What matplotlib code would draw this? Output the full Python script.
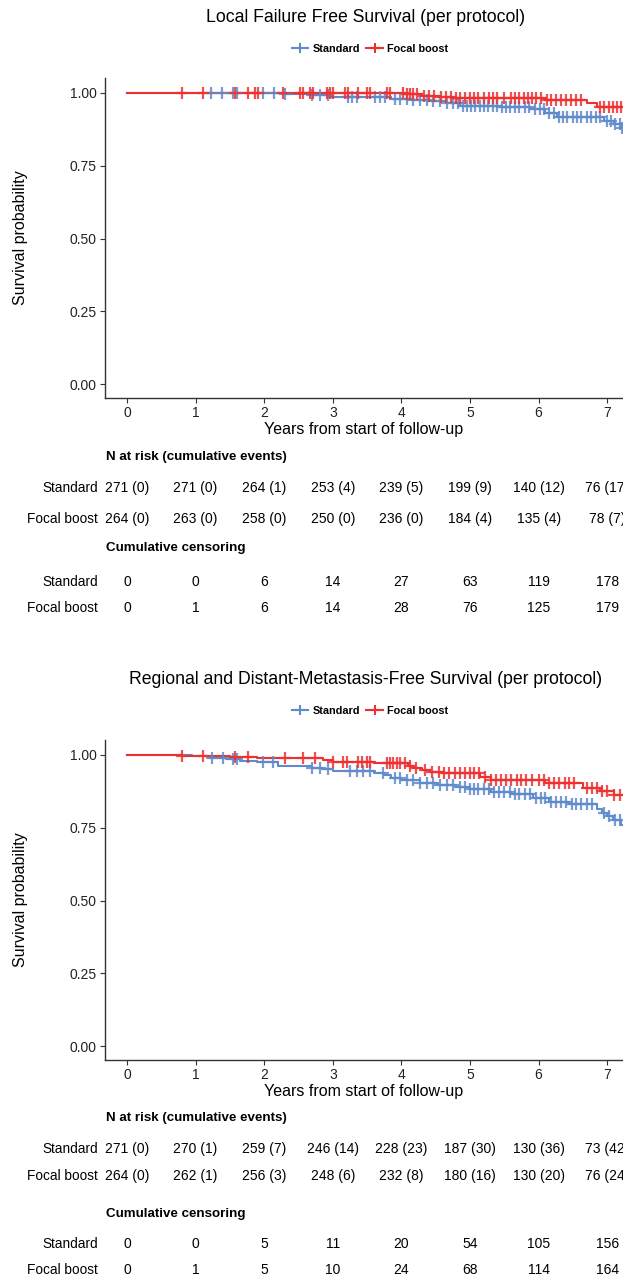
import numpy as np
import matplotlib
matplotlib.use("Agg")
import matplotlib.pyplot as plt
from matplotlib.lines import Line2D
from matplotlib.transforms import blended_transform_factory

plt.rcParams['font.family'] = ['Liberation Sans', 'DejaVu Sans']

BLUE = '#5F8ACB'
RED = '#EF3030'

groups = ['Standard', 'Focal boost']
years = [0, 1, 2, 3, 4, 5, 6, 7]

# ---- plot 1: local failure free survival ----
lf_std_t = [0, 2.3, 2.65, 2.95, 3.85, 4.15, 4.4, 4.65, 4.85, 5.45, 5.88, 6.1, 6.27, 6.95, 7.1, 7.2]
lf_std_s = [1.0, 0.996, 0.992, 0.985, 0.981, 0.977, 0.972, 0.966, 0.956, 0.952, 0.944, 0.93, 0.918, 0.905, 0.893, 0.88]
lf_fb_t = [0, 4.05, 4.3, 4.55, 4.75, 6.1, 6.7, 6.85]
lf_fb_s = [1.0, 0.996, 0.991, 0.987, 0.982, 0.976, 0.966, 0.952]
lf_std_cens = [1.23, 1.38, 1.55, 1.6, 1.99, 2.14, 2.3, 2.7, 2.81, 2.93, 3.22, 3.28, 3.35, 3.62, 3.69,
               3.76, 3.91, 3.98, 4.08, 4.17, 4.27, 4.37, 4.46, 4.56, 4.67, 4.75, 4.82, 4.9, 4.96, 5.02,
               5.08, 5.15, 5.2, 5.26, 5.33, 5.4, 5.47, 5.52, 5.58, 5.66, 5.72, 5.8, 5.86, 5.95, 6.02,
               6.08, 6.15, 6.22, 6.3, 6.36, 6.42, 6.5, 6.56, 6.62, 6.7, 6.76, 6.83, 6.9, 7.0, 7.06,
               7.12, 7.18, 7.22]
lf_fb_cens = [0.8, 1.11, 1.57, 1.76, 1.87, 1.91, 2.28, 2.52, 2.57, 2.67, 2.71, 2.92, 2.96, 3.0, 3.18,
              3.22, 3.37, 3.5, 3.54, 3.79, 3.83, 4.03, 4.08, 4.13, 4.17, 4.23, 4.33, 4.4, 4.48, 4.58,
              4.65, 4.72, 4.8, 4.86, 4.93, 5.0, 5.06, 5.12, 5.2, 5.27, 5.33, 5.4, 5.5, 5.6, 5.66,
              5.72, 5.78, 5.84, 5.9, 5.96, 6.03, 6.12, 6.18, 6.25, 6.32, 6.4, 6.47, 6.55, 6.62, 6.9,
              6.96, 7.02, 7.08, 7.14, 7.2]
lf_risk_std = ['271 (0)', '271 (0)', '264 (1)', '253 (4)', '239 (5)', '199 (9)', '140 (12)', '76 (17)']
lf_risk_fb = ['264 (0)', '263 (0)', '258 (0)', '250 (0)', '236 (0)', '184 (4)', '135 (4)', '78 (7)']
lf_cc_std = [0, 0, 6, 14, 27, 63, 119, 178]
lf_cc_fb = [0, 1, 6, 14, 28, 76, 125, 179]

# ---- plot 2: regional and distant-metastasis-free survival ----
md_std_t = [0, 0.95, 1.2, 1.45, 1.65, 1.9, 2.2, 2.7, 2.85, 3.0, 3.6, 3.75, 3.85, 4.0, 4.27, 4.52,
            4.8, 5.0, 5.3, 5.6, 5.92, 6.15, 6.45, 6.85, 6.92, 7.0, 7.08, 7.2]
md_std_s = [1.0, 0.996, 0.99, 0.986, 0.981, 0.977, 0.963, 0.955, 0.951, 0.946, 0.938, 0.93, 0.922,
            0.914, 0.905, 0.897, 0.89, 0.884, 0.874, 0.865, 0.852, 0.84, 0.832, 0.815, 0.8, 0.79,
            0.777, 0.76]
md_fb_t = [0, 0.8, 1.5, 1.9, 2.86, 3.0, 3.6, 4.1, 4.17, 4.3, 4.42, 4.6, 5.15, 5.3, 6.1, 6.65, 6.9, 7.1]
md_fb_s = [1.0, 0.996, 0.993, 0.989, 0.984, 0.977, 0.971, 0.962, 0.955, 0.95, 0.943, 0.937, 0.925,
           0.914, 0.903, 0.885, 0.876, 0.862]
md_std_cens = [1.24, 1.4, 1.55, 1.6, 1.98, 2.13, 2.7, 2.81, 2.93, 3.25, 3.35, 3.44, 3.54, 3.73, 3.91,
               3.98, 4.08, 4.17, 4.27, 4.37, 4.46, 4.56, 4.67, 4.75, 4.85, 4.92, 5.0, 5.06, 5.12,
               5.2, 5.27, 5.35, 5.42, 5.5, 5.58, 5.65, 5.72, 5.8, 5.88, 5.96, 6.03, 6.1, 6.18, 6.25,
               6.32, 6.4, 6.48, 6.55, 6.62, 6.7, 6.78, 6.95, 7.03, 7.12, 7.18]
md_fb_cens = [0.8, 1.11, 1.57, 1.76, 2.3, 2.57, 2.74, 3.0, 3.15, 3.2, 3.37, 3.43, 3.5, 3.54, 3.79,
              3.83, 3.88, 3.94, 3.98, 4.05, 4.13, 4.22, 4.35, 4.45, 4.55, 4.62, 4.7, 4.78, 4.85,
              4.92, 5.0, 5.06, 5.13, 5.22, 5.3, 5.38, 5.45, 5.52, 5.6, 5.68, 5.75, 5.82, 5.9, 6.0,
              6.08, 6.15, 6.23, 6.3, 6.38, 6.45, 6.52, 6.7, 6.78, 6.85, 6.92, 7.0, 7.1, 7.18]
md_risk_std = ['271 (0)', '270 (1)', '259 (7)', '246 (14)', '228 (23)', '187 (30)', '130 (36)', '73 (42)']
md_risk_fb = ['264 (0)', '262 (1)', '256 (3)', '248 (6)', '232 (8)', '180 (16)', '130 (20)', '76 (24)']
md_cc_std = [0, 0, 5, 11, 20, 54, 105, 156]
md_cc_fb = [0, 1, 5, 10, 24, 68, 114, 164]

W, H = 623, 1278
fig = plt.figure(figsize=(W / 100, H / 100), dpi=100)


def fy(py):
    return 1 - py / H


def surv_at(t, s, x):
    idx = np.searchsorted(t, x, side='right') - 1
    return np.asarray(s)[idx]


def km_panel(top_px, title, curves, risk_rows, cens_rows, ypos):
    ax = fig.add_axes([105 / W, fy(top_px + 320), 1 - 105 / W, 320 / H])
    for t, s, cens, col in curves:
        tt = list(t) + [7.4]
        ss = list(s) + [s[-1]]
        ax.step(tt, ss, where='post', color=col, lw=1.5, zorder=3)
        ax.plot(cens, surv_at(t, s, cens), ls='none', marker='+', ms=8, mew=1.6,
                color=col, alpha=0.85, zorder=4)
    ax.set_xlim(-0.32, 7.23)
    ax.set_ylim(-0.048, 1.0515)
    ax.set_xticks(years)
    ax.set_yticks([0, 0.25, 0.5, 0.75, 1.0])
    ax.set_yticklabels(['0.00', '0.25', '0.50', '0.75', '1.00'])
    ax.tick_params(labelsize=10, length=3.5, pad=2.5, color='#333333', labelcolor='#222222')
    for side in ['top', 'right']:
        ax.spines[side].set_visible(False)
    for side in ['left', 'bottom']:
        ax.spines[side].set_color('#333333')
        ax.spines[side].set_linewidth(1.0)
    ax.set_xlabel('Years from start of follow-up', fontsize=11.5, labelpad=1)
    ax.set_ylabel('Survival probability', fontsize=11.5, labelpad=30)

    fig.text(366 / W, fy(top_px - 61), title, ha='center', va='center', fontsize=12.7)
    handles = [Line2D([], [], color=c[3], marker='+', ms=7, mew=1.5, lw=1.5) for c in curves]
    fig.legend(handles, groups, loc='center', bbox_to_anchor=(370 / W, fy(top_px - 29)),
               ncol=2, frameon=False, handlelength=1.5, handletextpad=0.4, columnspacing=0.6,
               prop={'weight': 'bold', 'size': 7.8})

    tr = blended_transform_factory(ax.transData, fig.transFigure)
    hdr1, r1, r2, hdr2, c1, c2 = ypos
    fig.text(106 / W, fy(hdr1), 'N at risk (cumulative events)', ha='left', va='center',
             fontsize=9.6, fontweight='bold')
    fig.text(106 / W, fy(hdr2), 'Cumulative censoring', ha='left', va='center',
             fontsize=9.6, fontweight='bold')
    for name, y in zip(groups, [r1, r2]):
        fig.text(98 / W, fy(y), name, ha='right', va='center', fontsize=9.8)
    for name, y in zip(groups, [c1, c2]):
        fig.text(98 / W, fy(y), name, ha='right', va='center', fontsize=9.8)
    for row, y in zip(risk_rows, [r1, r2]):
        for x, lab in zip(years, row):
            ax.text(x, fy(y), lab, transform=tr, ha='center', va='center', fontsize=10)
    for row, y in zip(cens_rows, [c1, c2]):
        for x, lab in zip(years, row):
            ax.text(x, fy(y), str(lab), transform=tr, ha='center', va='center', fontsize=10)
    return ax


km_panel(78, 'Local Failure Free Survival (per protocol)',
         [(lf_std_t, lf_std_s, lf_std_cens, BLUE), (lf_fb_t, lf_fb_s, lf_fb_cens, RED)],
         [lf_risk_std, lf_risk_fb], [lf_cc_std, lf_cc_fb],
         (457, 488, 519, 548, 582, 608))

km_panel(740, 'Regional and Distant-Metastasis-Free Survival (per protocol)',
         [(md_std_t, md_std_s, md_std_cens, BLUE), (md_fb_t, md_fb_s, md_fb_cens, RED)],
         [md_risk_std, md_risk_fb], [md_cc_std, md_cc_fb],
         (1118, 1149, 1176, 1214, 1244, 1270))

fig.savefig('out.png', dpi=100, facecolor='white')
